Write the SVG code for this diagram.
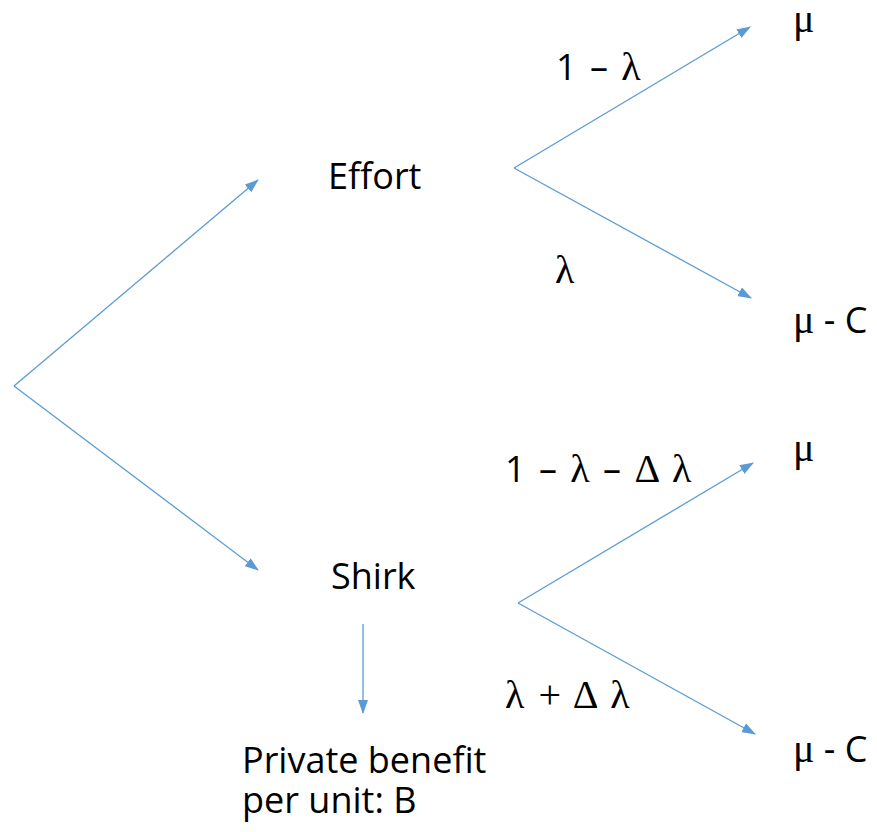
<svg xmlns="http://www.w3.org/2000/svg" width="877" height="832" viewBox="0 0 877 832">
<style>
.t{font-family:"Open Sans","Noto Sans",sans-serif;font-size:36px;fill:#000}
.g{font-family:"Liberation Serif","DejaVu Serif",serif;font-size:40px}
.w{word-spacing:4px}
.c{stroke:#5B9BD5;stroke-width:1.3;fill:none;marker-end:url(#ah)}
</style>
<defs>
<marker id="ah" viewBox="0 0 14 10" refX="13" refY="5" markerWidth="14" markerHeight="10" markerUnits="userSpaceOnUse" orient="auto">
<path d="M0,0 L14,5 L0,10 z" fill="#5B9BD5"/>
</marker>
</defs>
<g id="connectors">
<line class="c" x1="14" y1="386" x2="258" y2="180"/>
<line class="c" x1="14" y1="386" x2="258" y2="570"/>
<line class="c" x1="514" y1="168" x2="750" y2="27"/>
<line class="c" x1="514" y1="168" x2="751" y2="298"/>
<line class="c" x1="518" y1="603" x2="753" y2="463"/>
<line class="c" x1="518" y1="603" x2="755" y2="734"/>
<line class="c" x1="363" y1="624" x2="363" y2="713"/>
</g>
<g id="effort"><text class="t" x="328" y="189">Effort</text></g>
<g id="shirk"><text class="t" x="331" y="589">Shirk</text></g>
<g id="benefit"><text class="t" x="242" y="773">Private benefit</text><text class="t" x="242" y="813">per unit: B</text></g>
<g id="mu1"><text class="t g" x="793" y="32">μ</text></g>
<g id="muc1"><text class="t" x="793" y="333"><tspan class="g">μ</tspan> - C</text></g>
<g id="mu2"><text class="t g" x="793" y="461">μ</text></g>
<g id="muc2"><text class="t" x="793" y="762"><tspan class="g">μ</tspan> - C</text></g>
<g id="lab1"><text class="t w" x="556" y="80">1 – <tspan class="g">λ</tspan></text></g>
<g id="lab2"><text class="t g" x="555" y="283">λ</text></g>
<g id="lab3"><text class="t w" x="505" y="482">1 – <tspan class="g">λ</tspan> – <tspan class="g">Δ λ</tspan></text></g>
<g id="lab4"><text class="t g w" x="505" y="708">λ + Δ λ</text></g>
</svg>
